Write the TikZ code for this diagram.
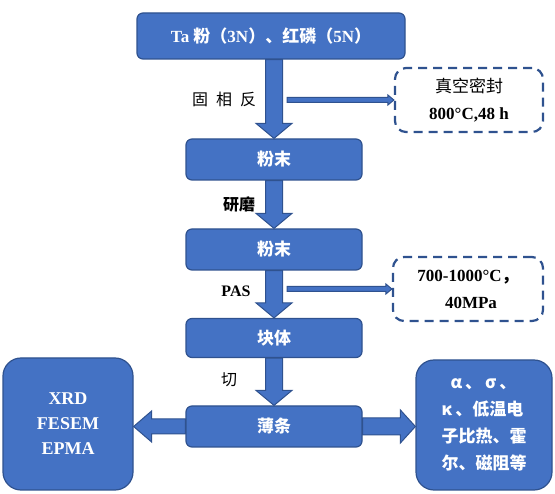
\documentclass[tikz,border=0pt]{standalone}
\usepackage{fontspec}
\setmainfont{Liberation Serif}
\newfontfamily\cjk{Noto Sans CJK SC}
\usetikzlibrary{calc}

\definecolor{boxblue}{HTML}{4472C4}
\definecolor{boxline}{HTML}{2F528F}

\tikzset{
  procbox/.style={draw=boxline, fill=boxblue, line width=1.2pt, rounded corners=6pt,
    text=white, font=\cjk\bfseries\fontsize{17}{20}\selectfont,
    minimum width=176pt, minimum height=41pt, inner sep=0pt},
  sidebox/.style={procbox, rounded corners=18pt, align=center},
  notebox/.style={draw=boxline, line width=2.2pt, dash pattern=on 9pt off 6pt,
    rounded corners=11pt, fill=white, align=center, inner sep=0pt,
    font=\fontsize{17}{27}\selectfont},
  steplabel/.style={font=\fontsize{16}{20}\selectfont, inner sep=0pt},
  blockarrow/.style={draw=boxline, fill=boxblue, line width=1pt, line join=miter}
}

% downward block arrow: from, tip, shaft half width, head half width, head length
\newcommand\downblock[5]{%
  \draw[blockarrow] ($(#1)+(-#3,0)$) -- ($(#2)+(-#3,-#5)$) -- ($(#2)+(-#4,-#5)$)
    -- (#2) -- ($(#2)+(#4,-#5)$) -- ($(#2)+(#3,-#5)$) -- ($(#1)+(#3,0)$) -- cycle;}
% sideways block arrow: from, tip, shaft half width, head half width, head length (signed)
\newcommand\sideblock[5]{%
  \draw[blockarrow] ($(#1)+(0,-#3)$) -- ($(#2)+({-(#5)},-#3)$) -- ($(#2)+({-(#5)},-#4)$)
    -- (#2) -- ($(#2)+({-(#5)},#4)$) -- ($(#2)+({-(#5)},#3)$) -- ($(#1)+(0,#3)$) -- cycle;}

\begin{document}
\begin{tikzpicture}[x=1pt, y=-1pt]
  \useasboundingbox (0,0) rectangle (555,494);

  % Main chain
  \node[procbox, minimum width=268pt, minimum height=46pt,
        font=\bfseries\fontsize{17}{20}\selectfont] (src) at (271,36)
        {Ta {\cjk 粉（}3N{\cjk ）、红磷（}5N{\cjk ）}};
  \node[procbox] (pw1) at (274,159.5) {粉末};
  \node[procbox] (pw2) at (274,249.5) {粉末};
  \node[procbox, minimum height=39pt] (bulk) at (274,338) {块体};
  \node[procbox] (strip) at (274,426.5) {薄条};

  % Side boxes
  \node[sidebox, minimum width=130pt, minimum height=132pt,
        font=\bfseries\fontsize{18}{25}\selectfont] (anal) at (68,424)
        {XRD\\FESEM\\EPMA};
  \node[sidebox, minimum width=136pt, minimum height=130pt, align=left,
        font=\cjk\bfseries\fontsize{17}{27}\selectfont] (prop) at (484,425)
        {\hspace*{9pt}α\hspace{3pt}、\hspace{3pt}σ\hspace{3pt}、\\κ\hspace{3pt}、低温电\\子比热、霍\\尔、磁阻等};

  % Conditions
  \node[notebox, minimum width=148pt, minimum height=64pt] (seal) at (469,100)
        {{\cjk 真空密封}\\\textbf{800°C,48 h}};
  \node[notebox, minimum width=150pt, minimum height=64pt] (sint) at (468,289)
        {\textbf{700-1000°C{\cjk ，}}\\\hspace*{6pt}\textbf{40MPa}};

  % Step labels
  \node[steplabel, font=\cjk\fontsize{16}{20}\selectfont] (lreact) at (224,99)
        {固\hspace{8pt}相\hspace{8pt}反};
  \node[steplabel, font=\cjk\bfseries\fontsize{16}{20}\selectfont] (lgrind) at (239,204) {研磨};
  \node[steplabel, font=\bfseries\fontsize{16}{20}\selectfont] (lpas) at (236,291) {PAS};
  \node[steplabel, font=\cjk\fontsize{16}{20}\selectfont] (lcut) at (229,380) {切};

  % Block arrows down the chain
  \downblock{pw1.north |- src.south}{pw1.north}{8.5}{18}{15}
  \downblock{pw2.north |- pw1.south}{pw2.north}{8.5}{18}{15}
  \downblock{bulk.north |- pw2.south}{bulk.north}{8.5}{18}{15}
  \downblock{strip.north |- bulk.south}{strip.north}{8.5}{18}{15}

  % Thin arrows to the conditions
  \coordinate (s1) at ($(seal.west -| pw1.north)+(13,0)$);
  \coordinate (s2) at ($(sint.west -| pw2.north)+(13,0)$);
  \sideblock{s1}{seal.west}{2.5}{5}{6}
  \sideblock{s2}{sint.west}{2.5}{5}{6}

  % Block arrows to the side boxes
  \sideblock{strip.west}{anal.east |- strip.west}{7.5}{15.5}{-18}
  \sideblock{strip.east}{prop.west |- strip.east}{8.5}{16.5}{15}
\end{tikzpicture}
\end{document}
